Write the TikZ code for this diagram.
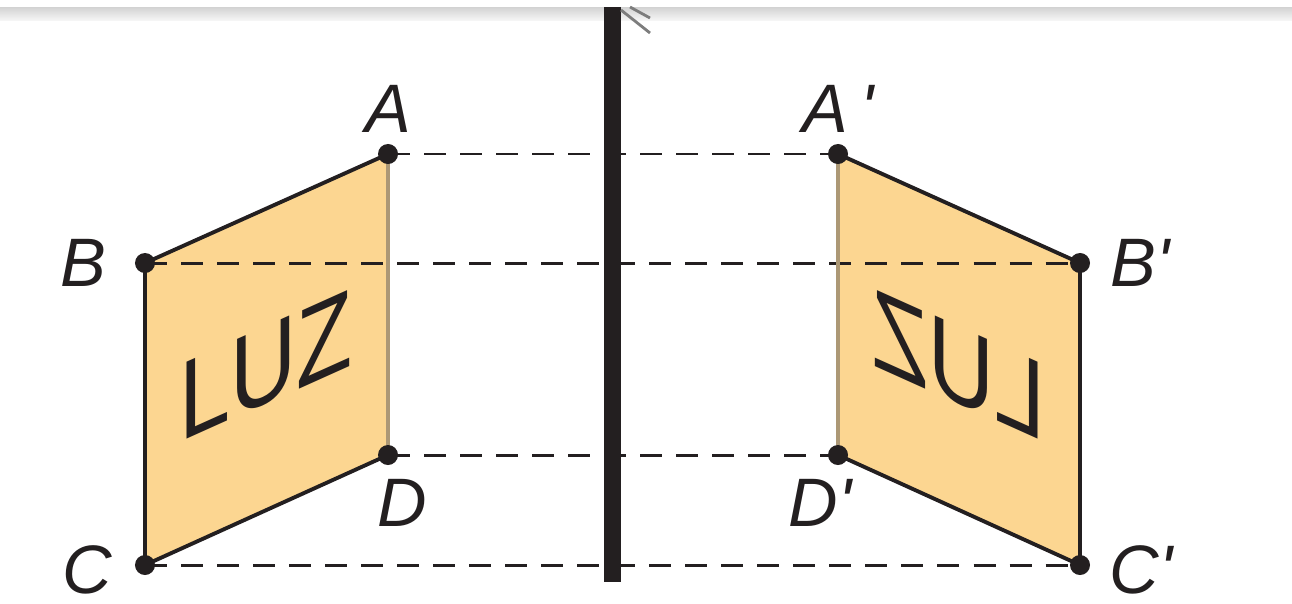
\documentclass[tikz,border=0pt]{standalone}
\usepackage{fontspec}
\setmainfont{Liberation Sans}
\usetikzlibrary{positioning}
\definecolor{ink}{RGB}{35,31,32}
\definecolor{paper}{RGB}{252,214,145}
\definecolor{seam}{RGB}{172,152,118}
\definecolor{hatch}{RGB}{125,125,125}

\begin{document}
\begin{tikzpicture}[
        x=0.01cm, y=-0.01cm,
        edge/.style={ink, line width=1.1pt, line join=round},
        seamline/.style={seam, line width=1.2pt},
        ray/.style={ink, line width=0.85pt, dash pattern=on 0.22cm off 0.14cm},
        mirror/.style={ink, line width=0.17cm},
        lbl/.style={font=\fontsize{19.5}{22}\selectfont\itshape, text=ink, inner sep=0pt},
        luz/.style={font=\fontsize{31.8}{36}\selectfont, text=ink, inner sep=0pt}
        ]
        \useasboundingbox (0,0) rectangle (1292,603);
        \shade[top color=gray!35, bottom color=gray!8] (0,7) rectangle (1292,20);

        \coordinate (A) at (388,154);
        \coordinate (B) at (145,263);
        \coordinate (C) at (145,565);
        \coordinate (D) at (388,455);
        \coordinate (Ap) at (838,154);
        \coordinate (Bp) at (1080,263);
        \coordinate (Cp) at (1080,565);
        \coordinate (Dp) at (838,455);
        \coordinate (mtop) at (612,7);
        \coordinate (mbot) at (612,582);

        \fill[paper] (A) -- (B) -- (C) -- (D) -- cycle;
        \fill[paper] (Ap) -- (Bp) -- (Cp) -- (Dp) -- cycle;

        \foreach \p in {A,B,C,D}
            \draw[ray] (\p) -- (\p p);

        \draw[edge] (A) -- (B) -- (C) -- (D);
        \draw[seamline] (D) -- (A);
        \draw[edge] (Ap) -- (Bp) -- (Cp) -- (Dp);
        \draw[seamline] (Dp) -- (Ap);

        \draw[mirror] (mtop) -- (mbot);
        \draw[hatch, line width=0.8pt] (621,10) -- (650,33);
        \draw[hatch, line width=0.8pt] (630,7) -- (650,18);

        \foreach \p in {A,B,C,D,Ap,Bp,Cp,Dp}
            \fill[ink] (\p) circle (0.1cm);

        \node[lbl, above=0.21cm of A] (labA) {A};
        \node[lbl, left=0.38cm of B] (labB) {B};
        \node[lbl, left=0.32cm of C, yshift=-0.05cm] (labC) {C};
        \node[lbl, below=0.235cm of D, xshift=0.14cm] (labD) {D};
        \node[lbl, above=0.21cm of Ap] (labAp) {A\,\textquotesingle};
        \node[lbl, right=0.3cm of Bp] (labBp) {B\textquotesingle};
        \node[lbl, right=0.29cm of Cp, yshift=-0.05cm] (labCp) {C\textquotesingle};
        \node[lbl, below=0.235cm of Dp, xshift=-0.18cm] (labDp) {D\textquotesingle};

        \begin{scope}[shift={(266,366)}]
            \node[luz, yslant=0.45, xscale=0.82] (word) at (0,0) {LUZ};
        \end{scope}
        \begin{scope}[shift={(959,366)}]
            \node[luz, yslant=-0.45, xscale=-0.82] (image) at (0,0) {LUZ};
        \end{scope}
\end{tikzpicture}
\end{document}
